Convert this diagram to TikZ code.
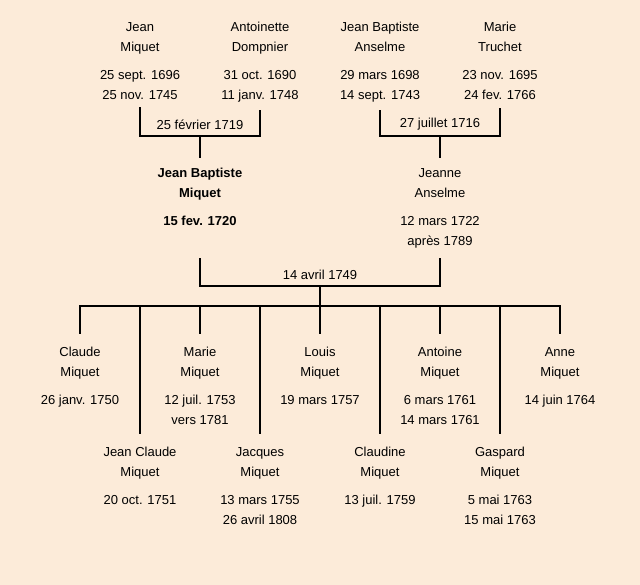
\documentclass[tikz,border=0pt]{standalone}
\usepackage{fontspec}
\setmainfont{Liberation Sans}
\usepackage{xcolor}
\usetikzlibrary{positioning}

\definecolor{paper}{RGB}{252,235,217}

\begin{document}
\begin{tikzpicture}[x=1pt,y=-1pt,
                    person/.style={align=center,anchor=north,inner sep=0pt,font=\fontsize{13}{20}\selectfont},
                    wedlabel/.style={inner sep=0pt,font=\fontsize{13}{20}\selectfont},
                    tie/.style={draw=black,line width=2.2pt,line cap=rect}]

  \fill[paper] (0,0) rectangle (640,585);
  \useasboundingbox (0,0) rectangle (640,585);

  % grandparents
  \node[person] (jm) at (140,22) {Jean\\Miquet\\[8pt]25 sept. 1696\\25 nov. 1745};
  \node[person] (ad) at (260,22) {Antoinette\\Dompnier\\[8pt]31 oct. 1690\\11 janv. 1748};
  \node[person] (jba) at (380,22) {Jean Baptiste\\Anselme\\[8pt]29 mars 1698\\14 sept. 1743};
  \node[person] (mt) at (500,22) {Marie\\Truchet\\[8pt]23 nov. 1695\\24 fev. 1766};

  % parents
  \node[person,font=\fontsize{13}{20}\selectfont\bfseries] (jbm) at (200,168) {Jean Baptiste\\Miquet\\[8pt]15 fev. 1720};
  \node[person] (ja) at (440,168) {Jeanne\\Anselme\\[8pt]12 mars 1722\\après 1789};

  % children
  \node[person] (claude) at (80,347) {Claude\\Miquet\\[8pt]26 janv. 1750};
  \node[person] (marie) at (200,347) {Marie\\Miquet\\[8pt]12 juil. 1753\\vers 1781};
  \node[person] (louis) at (320,347) {Louis\\Miquet\\[8pt]19 mars 1757};
  \node[person] (antoine) at (440,347) {Antoine\\Miquet\\[8pt]6 mars 1761\\14 mars 1761};
  \node[person] (anne) at (560,347) {Anne\\Miquet\\[8pt]14 juin 1764};
  \node[person] (jeanclaude) at (140,447) {Jean Claude\\Miquet\\[8pt]20 oct. 1751};
  \node[person] (jacques) at (260,447) {Jacques\\Miquet\\[8pt]13 mars 1755\\26 avril 1808};
  \node[person] (claudine) at (380,447) {Claudine\\Miquet\\[8pt]13 juil. 1759};
  \node[person] (gaspard) at (500,447) {Gaspard\\Miquet\\[8pt]5 mai 1763\\15 mai 1763};

  % marriages
  \coordinate (m1) at (200,136);
  \coordinate (m2) at (440,136);
  \coordinate (m3) at (320,286);
  \coordinate (kids) at (320,306);
  \coordinate (top3) at ([yshift=-11pt]ja.south);

  \draw[tie] ([yshift=-9pt]jm.south) |- (m1) -| ([yshift=-9pt]ad.south);
  \draw[tie] (m1) -- ([yshift=11pt]jbm.north);
  \node[wedlabel,above=6pt of m1] (w1) {25 février 1719};

  \draw[tie] ([yshift=-9pt]jba.south) |- (m2) -| ([yshift=-9pt]mt.south);
  \draw[tie] (m2) -- ([yshift=11pt]ja.north);
  \node[wedlabel,above=6pt of m2] (w2) {27 juillet 1716};

  \draw[tie] (jbm |- top3) |- (m3) -| (top3);
  \node[wedlabel,above=6pt of m3] (w3) {14 avril 1749};

  \draw[tie] (m3) -- (kids);
  \draw[tie] (claude |- kids) -- (anne |- kids);
  \foreach \c in {claude,marie,louis,antoine,anne,jeanclaude,jacques,claudine,gaspard}
    \draw[tie] (\c |- kids) -- ([yshift=14pt]\c.north);

\end{tikzpicture}
\end{document}
